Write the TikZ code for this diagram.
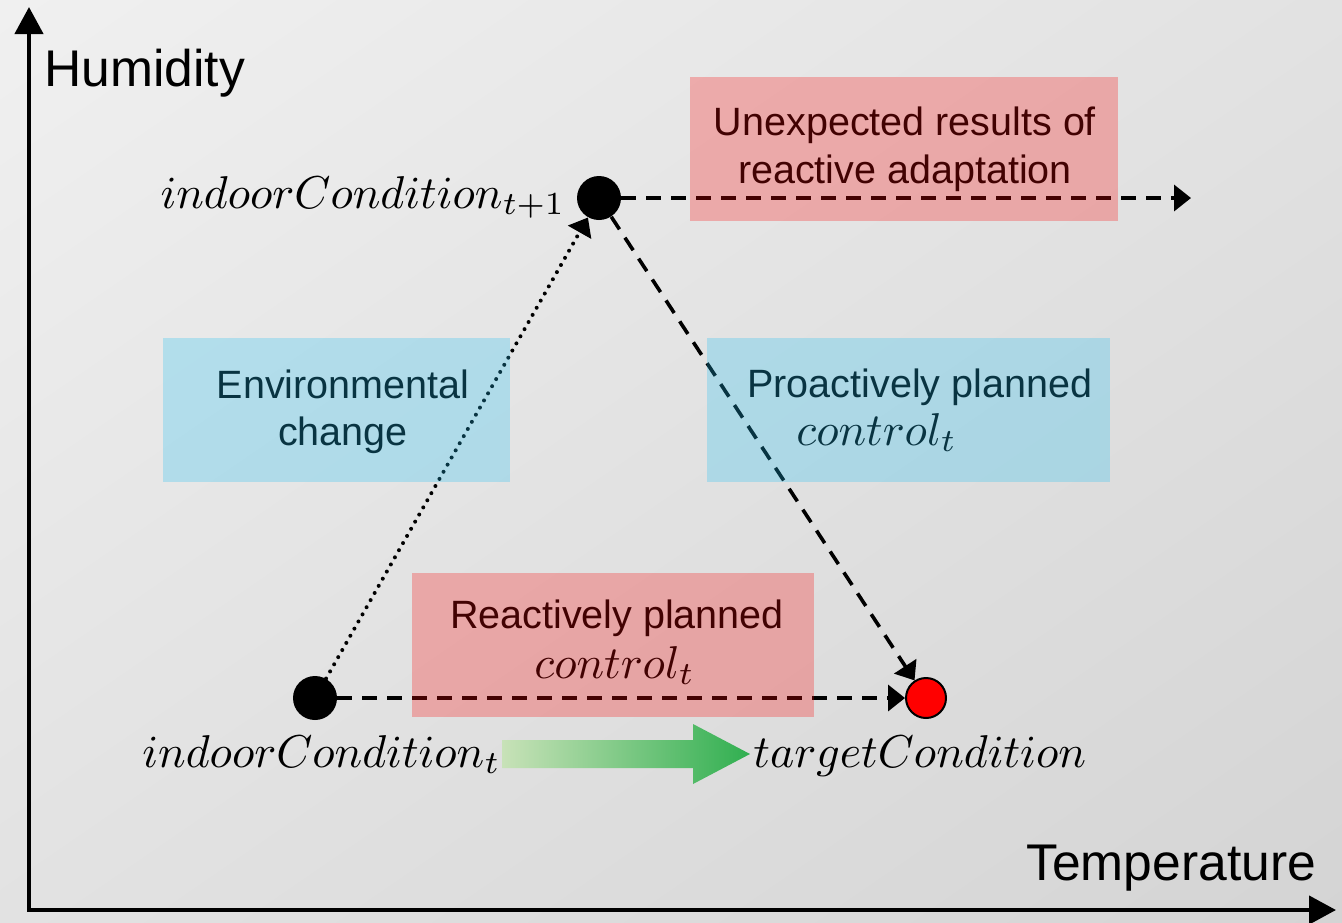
\documentclass[tikz,border=0pt]{standalone}
\usepackage[no-math]{fontspec}
\setmainfont{Liberation Sans}
\usetikzlibrary{arrows.meta,shadings}

\definecolor{bgA}{RGB}{240,240,240}
\definecolor{bgB}{RGB}{226,226,226}
\definecolor{bgC}{RGB}{212,212,212}
\definecolor{boxred}{RGB}{252,8,8}
\definecolor{boxblue}{RGB}{33,193,244}
\definecolor{txtred}{RGB}{66,2,2}
\definecolor{txtblue}{RGB}{9,52,66}
\definecolor{greenlight}{RGB}{200,226,184}
\definecolor{greendark}{RGB}{48,175,80}

% italic math labels, enlarged as vector glyphs
\newcommand\statelabel[1]{\scalebox{2.3}{$#1$}}

\begin{document}
\begin{tikzpicture}[x=0.5pt,y=-0.5pt,
  axis/.style={line width=2.2pt, line join=miter,
    {Triangle[length=13.5pt,width=14pt]}-{Triangle[length=13.5pt,width=14pt]}},
  state/.style={circle, fill=black, minimum size=22pt, inner sep=0pt},
  goal/.style={circle, fill=red, draw=black, line width=1pt, minimum size=20pt, inner sep=0pt},
  flow/.style={line width=1.8pt, dash pattern=on 7.5pt off 5pt,
    -{Triangle[length=8.5pt,width=13pt]}},
  drift/.style={line width=2pt, line cap=round, dash pattern=on 0pt off 4.1pt,
    -{Triangle[length=8.5pt,width=13pt]}},
  panel/.style={rectangle, inner sep=0pt, fill opacity=0.27, minimum height=72pt},
  redpanel/.style={panel, fill=boxred},
  bluepanel/.style={panel, fill=boxblue},
  boxtext/.style={inner sep=0pt, anchor=base, font=\fontsize{19.75}{24}\selectfont},
  mathtext/.style={inner sep=0pt},
  axislabel/.style={inner sep=0pt, anchor=base west, font=\fontsize{25.8}{30}\selectfont}
]
% canvas and soft grey background
\useasboundingbox (0,0) rectangle (1342,922);
\shade[upper left=bgA, upper right=bgB, lower left=bgB, lower right=bgC]
  (0,0) rectangle (1342,922);

% axes
\coordinate (ytip) at (29,7);
\coordinate (origin) at (29,910);
\coordinate (xtip) at (1336,910);
\draw[axis] (ytip) -- (origin) -- (xtip);
\node[axislabel] (ylabel) at (44,86) {Humidity};
\node[axislabel] (xlabel) at (1026,880) {Temperature};

% states
\node[state] (now) at (315,698) {};
\node[state] (next) at (599,198) {};
\node[goal] (target) at (926,698) {};
\coordinate (beyond) at (1191,198);

% transitions
\draw[drift] (now) -- (next);
\draw[flow] (next) -- (target);
\draw[flow] (now) -- (target);
\draw[flow] (next) -- (beyond);

% state labels
\node[mathtext, anchor=base east] (lblnext) at (566,208) {\statelabel{indoorCondition_{t+1}}};
\node[mathtext, anchor=base west] (lblnow) at (142,767) {\statelabel{indoorCondition_t}};
\node[mathtext, anchor=base west] (lbltarget) at (753,767) {\statelabel{targetCondition}};

% shaded progress arrow
\shade[left color=greenlight, right color=greendark]
  (502,740) -- (693,740) -- (693,724) -- (750,754) -- (693,784) -- (693,768) -- (502,768) -- cycle;

% translucent annotation panels
\node[redpanel, minimum width=214pt] (unexpected) at (904,149) {};
\node[bluepanel, minimum width=173.5pt] (envchange) at (336.5,410) {};
\node[bluepanel, minimum width=201.5pt] (proactive) at (908.5,409.5) {};
\node[redpanel, minimum width=201pt] (reactive) at (613,645) {};

% panel texts
\node[boxtext, text=txtred] (ue1) at (905,135) {Unexpected results of};
\node[boxtext, text=txtred] (ue2) at (905,183) {reactive adaptation};
\node[boxtext, text=txtblue] (ec1) at (343,398) {Environmental};
\node[boxtext, text=txtblue] (ec2) at (343,445) {change};
\node[boxtext, text=txtblue, anchor=base west] (pc1) at (747,397) {Proactively planned};
\node[mathtext, text=txtblue, anchor=base west] (pc2) at (796,445) {\statelabel{control_t}};
\node[boxtext, text=txtred] (rc1) at (617,628) {Reactively planned};
\node[mathtext, text=txtred, anchor=base west] (rc2) at (534,678) {\statelabel{control_t}};
\end{tikzpicture}
\end{document}
